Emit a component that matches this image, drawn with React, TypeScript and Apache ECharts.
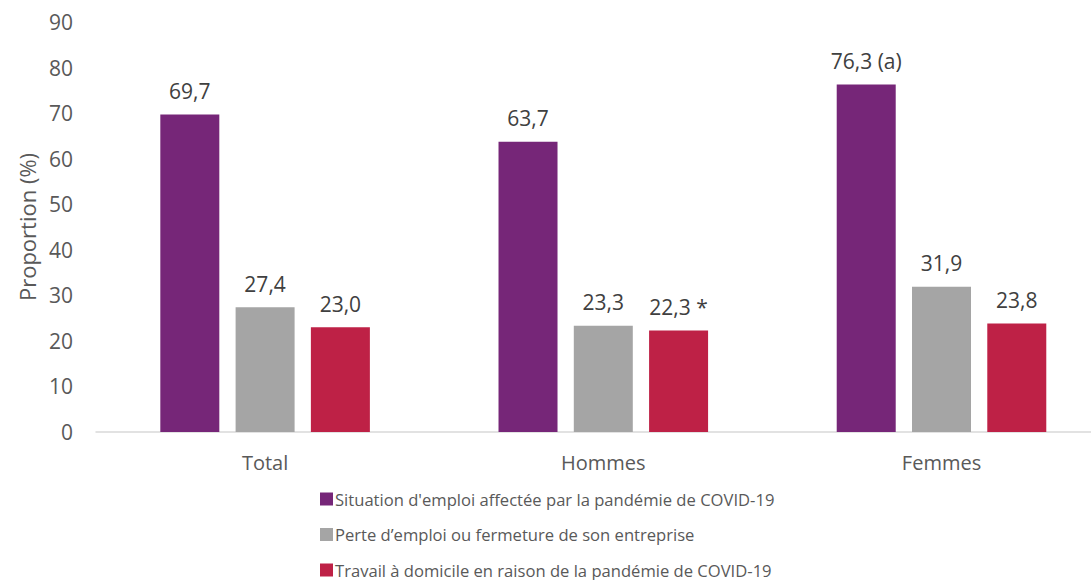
import React, { useEffect, useRef } from "react";
import * as echarts from "echarts";

const categories = ["Total", "Hommes", "Femmes"];
const seriesNames = [
  "Situation d'emploi affectée par la pandémie de COVID-19",
  "Perte d\u2019emploi ou fermeture de son entreprise",
  "Travail à domicile en raison de la pandémie de COVID-19",
];
const affectee = [69.7, 63.7, 76.3];
const perte = [27.4, 23.3, 31.9];
const domicile = [23.0, 22.3, 23.8];
const affecteeNotes = ["", "", " (a)"];
const perteNotes = ["", "", ""];
const domicileNotes = ["", " *", ""];
const colors = ["#762678", "#A5A5A5", "#BE2146"];

const FONT = "'Open Sans', sans-serif";

export default function App() {
  const ref = useRef<HTMLDivElement>(null);
  useEffect(() => {
    if (!ref.current) return;
    const chart = echarts.init(ref.current, undefined, { renderer: "svg" });
    const fmt = (v: number) => v.toFixed(1).replace(".", ",");
    const mk = (i: number, vals: number[], notes: string[]) => ({
      name: seriesNames[i],
      type: "bar",
      data: vals,
      barWidth: 59,
      barGap: "27.6%",
      itemStyle: { color: colors[i] },
      label: {
        show: true,
        position: "top",
        distance: 13,
        color: "#404040",
        fontSize: 21,
        fontFamily: FONT,
        formatter: (p: any) => fmt(p.value) + notes[p.dataIndex],
      },
    });
    chart.setOption({
      animation: false,
      textStyle: { fontFamily: FONT },
      grid: {
        left: 96,
        top: 22,
        right: -19.6,
        height: 410,
        containLabel: false,
        outerBoundsMode: "none",
      },
      legend: {
        orient: "vertical",
        left: 315,
        top: 484,
        height: 120,
        itemWidth: 13,
        itemHeight: 13,
        itemGap: 15.5,
        icon: "rect",
        textStyle: { color: "#595959", fontSize: 16.6, fontFamily: FONT, lineHeight: 20, padding: [0, 0, 0, -3] },
        data: seriesNames,
      },
      xAxis: {
        type: "category",
        data: categories,
        axisLine: { lineStyle: { color: "#D9D9D9", width: 1.5 } },
        axisTick: { show: false },
        axisLabel: { color: "#595959", fontSize: 20, fontFamily: FONT, margin: 20 },
      },
      yAxis: {
        type: "value",
        min: 0,
        max: 90,
        interval: 10,
        name: "Proportion (%)",
        nameLocation: "middle",
        nameGap: 58,
        nameTextStyle: { color: "#595959", fontSize: 22, fontFamily: FONT },
        axisLine: { show: false },
        axisTick: { show: false },
        splitLine: { show: false },
        axisLabel: { color: "#595959", fontSize: 21, fontFamily: FONT, margin: 23 },
      },
      series: [mk(0, affectee, affecteeNotes), mk(1, perte, perteNotes), mk(2, domicile, domicileNotes)],
    });
    return () => chart.dispose();
  }, []);
  return (
    <div
      ref={ref}
      style={{ position: "fixed", left: 0, top: 0, width: 1091, height: 580, background: "#fff" }}
    />
  );
}
